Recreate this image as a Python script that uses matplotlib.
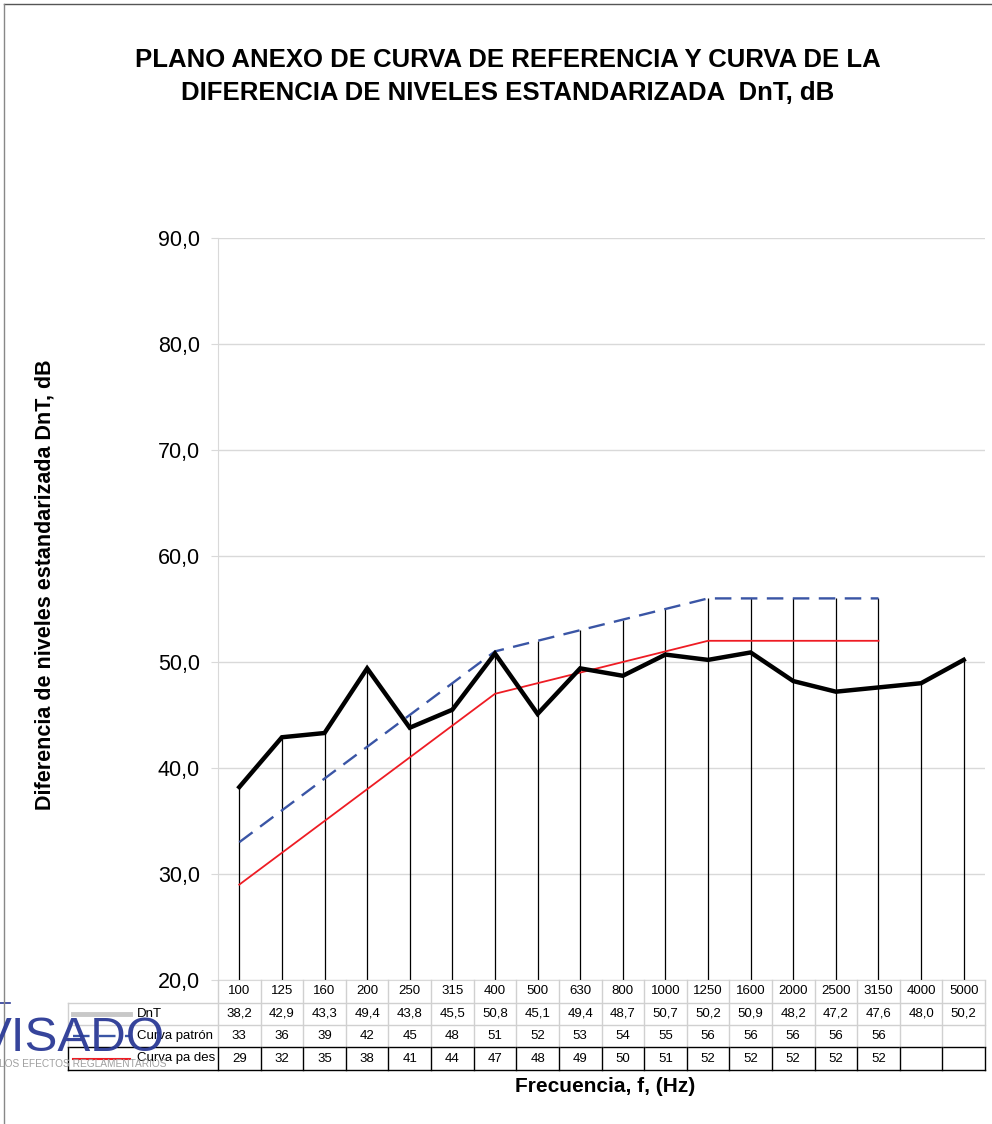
import numpy as np
import matplotlib
matplotlib.use('Agg')
import matplotlib.pyplot as plt
from matplotlib.transforms import blended_transform_factory
from matplotlib.lines import Line2D

plt.rcParams['font.family'] = ['Liberation Sans', 'DejaVu Sans']

freqs = ['100', '125', '160', '200', '250', '315', '400', '500', '630', '800',
         '1000', '1250', '1600', '2000', '2500', '3150', '4000', '5000']
dnt = [38.2, 42.9, 43.3, 49.4, 43.8, 45.5, 50.8, 45.1, 49.4, 48.7,
       50.7, 50.2, 50.9, 48.2, 47.2, 47.6, 48.0, 50.2]
patron = [33, 36, 39, 42, 45, 48, 51, 52, 53, 54, 55, 56, 56, 56, 56, 56, np.nan, np.nan]
desplazada = [29, 32, 35, 38, 41, 44, 47, 48, 49, 50, 51, 52, 52, 52, 52, 52, np.nan, np.nan]
series_names = ['DnT', 'Curva patrón', 'Curva pa des']
yticks = [20, 30, 40, 50, 60, 70, 80, 90]

W, H = 992, 1124
fig = plt.figure(figsize=(W / 100, H / 100), dpi=100)


def fx(px):
    return px / W


def fy(py):
    return 1 - py / H


ax_l, ax_r, ax_t, ax_b = 218, 985, 238, 980
ax = fig.add_axes([fx(ax_l), fy(ax_b), fx(ax_r - ax_l), (ax_b - ax_t) / H])

x = np.arange(len(freqs))
ax.set_xlim(-0.5, len(freqs) - 0.5)
ax.set_ylim(yticks[0], yticks[-1])
ax.set_yticks(yticks)
ax.set_yticklabels([f"{v:.1f}".replace('.', ',') for v in yticks])
ax.set_xticks([])
ax.grid(axis='y', color='#d9d9d9', lw=1, zorder=0)
ax.set_axisbelow(True)
for s in ['top', 'right']:
    ax.spines[s].set_visible(False)
ax.spines['left'].set_color('#d9d9d9')
ax.spines['bottom'].set_color('#d9d9d9')
ax.tick_params(axis='y', length=5, color='#d9d9d9', labelsize=15.5, pad=8)

# drop lines
tops = np.nanmax(np.vstack([dnt, patron, desplazada]), axis=0)
ax.vlines(x, yticks[0], tops, color='black', lw=0.9, zorder=1)

ax.plot(x, patron, color='#3a55a5', lw=1.7, dashes=(7, 4), zorder=3)
ax.plot(x, desplazada, color='#ee1c24', lw=1.3, zorder=3)
ax.plot(x, dnt, color='black', lw=3.2, zorder=4, solid_joinstyle='miter')

# ---- data table ----
tr_d = blended_transform_factory(ax.transData, fig.transFigure)
tr_a = blended_transform_factory(ax.transAxes, fig.transFigure)
rows_y = [980, 1003, 1025, 1047, 1070]
leg_left = (68 - ax_l) / (ax_r - ax_l)
gray = '#d0d0d0'


def hline(py, x0, x1, color, tr):
    fig.add_artist(Line2D([x0, x1], [fy(py), fy(py)], transform=tr, color=color, lw=1))


def vline(xv, py0, py1, color, tr):
    fig.add_artist(Line2D([xv, xv], [fy(py0), fy(py1)], transform=tr, color=color, lw=1))


hline(rows_y[1], leg_left, 1, gray, tr_a)
hline(rows_y[2], leg_left, 1, gray, tr_a)
hline(rows_y[3], leg_left, 1, 'black', tr_a)
hline(rows_y[4], leg_left, 1, 'black', tr_a)
for b in np.arange(len(freqs) + 1) - 0.5:
    vline(b, rows_y[0], rows_y[3], gray, tr_d)
    vline(b, rows_y[3], rows_y[4], 'black', tr_d)
vline(leg_left, rows_y[1], rows_y[3], gray, tr_a)
vline(leg_left, rows_y[3], rows_y[4], 'black', tr_a)


def fmt(v, dec):
    if np.isnan(v):
        return ''
    return f"{v:.{dec}f}".replace('.', ',')


for i, f in enumerate(freqs):
    fig.text(i, fy((rows_y[0] + rows_y[1]) / 2), f, transform=tr_d, ha='center', va='center', fontsize=9.5)
    fig.text(i, fy((rows_y[1] + rows_y[2]) / 2), fmt(dnt[i], 1), transform=tr_d, ha='center', va='center', fontsize=9.5)
    fig.text(i, fy((rows_y[2] + rows_y[3]) / 2), fmt(patron[i], 0), transform=tr_d, ha='center', va='center', fontsize=9.5)
    fig.text(i, fy((rows_y[3] + rows_y[4]) / 2), fmt(desplazada[i], 0), transform=tr_d, ha='center', va='center', fontsize=9.5)

key_styles = [dict(color='#c8c8c8', lw=3.5), dict(color='#3a55a5', lw=1.7, dashes=(7, 4)),
              dict(color='#ee1c24', lw=1.5)]
for r, (name, st) in enumerate(zip(series_names, key_styles)):
    cy = fy((rows_y[r + 1] + rows_y[r + 2]) / 2)
    fig.add_artist(Line2D([fx(73), fx(130)], [cy, cy], **st))
    fig.text(fx(137), cy, name, ha='left', va='center', fontsize=9.5)

# watermark stamp
fig.add_artist(Line2D([0, fx(10)], [fy(1003), fy(1003)], color='#2b3a96', lw=1.2))
fig.text(fx(-21), fy(1051), 'VISADO', color='#2b3a96', fontsize=35.5, ha='left', va='baseline', alpha=0.95)
fig.text(fx(-1), fy(1067), 'LOS EFECTOS REGLAMENTARIOS', color='#a0a0a0', fontsize=7.3, ha='left', va='baseline')

# border
fig.add_artist(Line2D([fx(4), 1], [fy(4), fy(4)], color='#555555', lw=1))
fig.add_artist(Line2D([fx(4), fx(4)], [fy(4), 0], color='#888888', lw=1))

# titles
fig.text(fx(508), fy(60), 'PLANO ANEXO DE CURVA DE REFERENCIA Y CURVA DE LA',
         fontweight='bold', fontsize=18.5, ha='center', va='center')
fig.text(fx(508), fy(93), 'DIFERENCIA DE NIVELES ESTANDARIZADA  DnT, dB',
         fontweight='bold', fontsize=18.5, ha='center', va='center')
fig.text(fx(45), fy(585), 'Diferencia de niveles estandarizada DnT, dB', rotation=90,
         fontweight='bold', fontsize=15.5, ha='center', va='center')
fig.text(fx(605), fy(1087), 'Frecuencia, f, (Hz)',
         fontweight='bold', fontsize=15, ha='center', va='center')

fig.savefig('out.png', dpi=100)
